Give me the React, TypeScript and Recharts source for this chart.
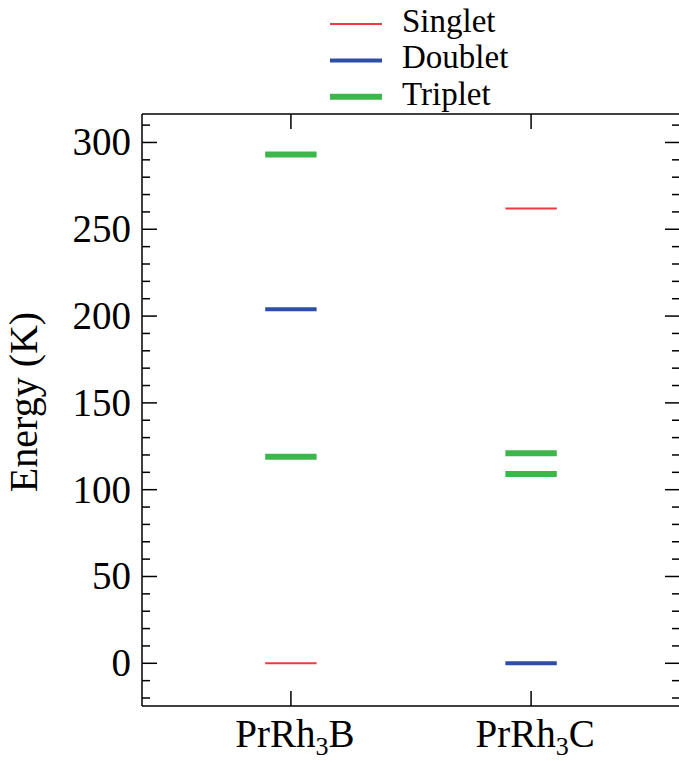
import { ComposedChart, Line, XAxis, YAxis } from 'recharts'

/* ── data ─────────────────────────────────────────────── */

const categories = ['PrRh3B', 'PrRh3C']

// energies (K) per category, same order as categories
const singletLevels = [[0], [262]]
const doubletLevels = [[204], [0]]
const tripletLevels = [[119, 293], [109, 121]]

const levelTypes = ['Singlet', 'Doublet', 'Triplet']
const levelColors = ['#ec3a3f', '#2c4ea5', '#3db64a']
const levelWidths = [2, 4, 6]

const majorTicks = [0, 50, 100, 150, 200, 250, 300]
const yTicks = [-20, -10, 0, 10, 20, 30, 40, 50, 60, 70, 80, 90, 100, 110, 120, 130, 140, 150, 160, 170, 180, 190, 200, 210, 220, 230, 240, 250, 260, 270, 280, 290, 300, 310]

/* ── layout ───────────────────────────────────────────── */

const FONT = '"Liberation Serif", "Times New Roman", serif'
const HALF = 0.107 // half width of a level bar, in category units
const X_DOMAIN: [number, number] = [0.38, 2.62]
const Y_DOMAIN: [number, number] = [-24.6, 316.4]
const MAJOR = 15
const MINOR = 8

const levelSets = [singletLevels, doubletLevels, tripletLevels]

const segments = levelSets.flatMap((set, ti) =>
  set.flatMap((energies, ci) =>
    energies.map((e) => ({
      key: `${levelTypes[ti]}-${ci}-${e}`,
      color: levelColors[ti],
      width: levelWidths[ti],
      data: [
        { x: ci + 1 - HALF, e },
        { x: ci + 1 + HALF, e },
      ],
    }))
  )
)

function LeftTick({ x, y, payload }: any) {
  const major = majorTicks.includes(payload.value)
  return (
    <g>
      <line x1={x} x2={x + (major ? MAJOR : MINOR)} y1={y} y2={y} stroke="#000" strokeWidth={1.5} />
      {major ? (
        <text x={x - 11} y={y + 13} textAnchor="end" fontSize={39} fontFamily={FONT} fill="#000">
          {payload.value}
        </text>
      ) : null}
    </g>
  )
}

function RightTick({ x, y, payload }: any) {
  const major = majorTicks.includes(payload.value)
  return <line x1={x} x2={x - (major ? MAJOR : MINOR)} y1={y} y2={y} stroke="#000" strokeWidth={1.5} />
}

function BottomTick({ x, y, payload }: any) {
  const name = categories[payload.value - 1] || ''
  const m = name.match(/^(\D+)(\d+)(\D*)$/)
  return (
    <g>
      <line x1={x} x2={x} y1={y} y2={y - MAJOR} stroke="#000" strokeWidth={1.5} />
      <text x={x + 4} y={y + 41} textAnchor="middle" fontSize={39} fontFamily={FONT} fill="#000">
        {m ? (
          <>
            {m[1]}
            <tspan fontSize={26} dy={8}>{m[2]}</tspan>
            <tspan dy={-8}>{m[3]}</tspan>
          </>
        ) : (
          name
        )}
      </text>
    </g>
  )
}

function TopTick({ x, y }: any) {
  return <line x1={x} x2={x} y1={y} y2={y + MAJOR} stroke="#000" strokeWidth={1.5} />
}

function EnergyLabel({ viewBox }: any) {
  const cx = viewBox.x + 37
  const cy = viewBox.y + viewBox.height / 2 - 8
  return (
    <text
      x={cx}
      y={cy}
      transform={`rotate(-90, ${cx}, ${cy})`}
      textAnchor="middle"
      fontSize={40}
      fontFamily={FONT}
      fill="#000"
    >
      Energy (K)
    </text>
  )
}

function LevelLegend() {
  return (
    <svg width={679} height={120} style={{ position: 'absolute', left: 0, top: 0 }}>
      {levelTypes.map((t, i) => {
        const ly = 24 + i * 36.4
        return (
          <g key={t}>
            <line x1={330} x2={382} y1={ly} y2={ly} stroke={levelColors[i]} strokeWidth={levelWidths[i]} />
            <text x={402} y={ly + 8} fontSize={33} fontFamily={FONT} fill="#000">
              {t}
            </text>
          </g>
        )
      })}
    </svg>
  )
}

export default function App() {
  return (
    <div
      style={{
        position: 'absolute',
        left: 0,
        top: 0,
        width: 679,
        height: 762,
        overflow: 'hidden',
        background: '#fff',
      }}
    >
      <ComposedChart width={700} height={762} margin={{ top: 0, right: 0, bottom: 0, left: 0 }}>
        <XAxis
          xAxisId="b"
          type="number"
          dataKey="x"
          domain={X_DOMAIN}
          allowDataOverflow
          ticks={[1, 2]}
          interval={0}
          height={56}
          tickSize={0}
          tickMargin={0}
          tickLine={false}
          axisLine={{ stroke: '#000', strokeWidth: 1.5 }}
          tick={<BottomTick />}
        />
        <XAxis
          xAxisId="t"
          orientation="top"
          type="number"
          dataKey="x"
          domain={X_DOMAIN}
          allowDataOverflow
          ticks={[1, 2]}
          interval={0}
          height={114}
          tickSize={0}
          tickMargin={0}
          tickLine={false}
          axisLine={{ stroke: '#000', strokeWidth: 1.5 }}
          tick={<TopTick />}
        />
        <YAxis
          yAxisId="l"
          type="number"
          domain={Y_DOMAIN}
          allowDataOverflow
          ticks={yTicks}
          interval={0}
          width={142}
          tickSize={0}
          tickMargin={0}
          tickLine={false}
          axisLine={{ stroke: '#000', strokeWidth: 1.5 }}
          tick={<LeftTick />}
          label={{ content: <EnergyLabel /> }}
        />
        <YAxis
          yAxisId="r"
          orientation="right"
          type="number"
          domain={Y_DOMAIN}
          allowDataOverflow
          ticks={yTicks}
          interval={0}
          width={20}
          tickSize={0}
          tickMargin={0}
          tickLine={false}
          axisLine={{ stroke: '#000', strokeWidth: 1.5 }}
          tick={<RightTick />}
        />
        {segments.map((s) => (
          <Line
            key={s.key}
            xAxisId="b"
            yAxisId="l"
            data={s.data}
            dataKey="e"
            type="linear"
            stroke={s.color}
            strokeWidth={s.width}
            strokeLinecap="butt"
            dot={false}
            activeDot={false}
            legendType="none"
            isAnimationActive={false}
          />
        ))}
      </ComposedChart>
      <LevelLegend />
    </div>
  )
}
